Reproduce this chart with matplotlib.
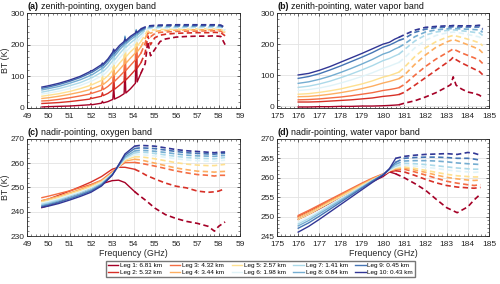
import numpy as np
import matplotlib
matplotlib.use("Agg")
import matplotlib.pyplot as plt
from matplotlib.ticker import MultipleLocator
from matplotlib.lines import Line2D

plt.rcParams["font.family"] = ["Liberation Sans", "DejaVu Sans"]

leg_labels = ["Leg 1: 6.81 km", "Leg 2: 5.32 km", "Leg 3: 4.32 km", "Leg 4: 3.44 km",
              "Leg 5: 2.57 km", "Leg 6: 1.98 km", "Leg 7: 1.41 km", "Leg 8: 0.84 km",
              "Leg 9: 0.45 km", "Leg 10: 0.43 km"]
leg_colors = ["#a50026", "#d73027", "#f46d43", "#fdae61", "#fee090",
              "#e0f3f8", "#abd9e9", "#74add1", "#4575b4", "#313695"]

# (a) zenith, oxygen band -- solid up to split, dashed after
freq_a = [49.7, 50.0, 50.5, 51.0, 51.5, 51.96, 52.0, 52.04, 52.5, 52.54, 52.58, 52.8,
          53.03, 53.07, 53.11, 53.35, 53.56, 53.6, 53.64, 53.85, 54.09, 54.13, 54.17, 54.35,
          54.55, 54.67, 54.8, 55.0, 55.25, 55.5, 56.0, 56.5, 57.0, 57.5, 57.8, 58.1, 58.3]
split_a = 54.35
bt_a = [
    [3, 4, 5, 6, 8, 10, 13, 10, 15, 21, 16, 20, 27, 67, 28, 36, 45, 128, 47, 60, 78, 200, 82, 110,
     140, 210, 165, 185, 210, 218, 224, 226, 227, 227, 228, 226, 200],
    [14, 15, 17, 20, 24, 28, 33, 30, 37, 48, 39, 46, 57, 102, 59, 72, 85, 171, 88, 103, 121, 216, 125, 143,
     175, 228, 200, 222, 230, 233, 236, 237, 238, 238, 239, 238, 228],
    [22, 23, 27, 32, 38, 44, 50, 46, 56, 70, 58, 68, 82, 127, 84, 100, 115, 194, 118, 134, 152, 232, 156, 173,
     205, 237, 225, 235, 239, 240, 242, 243, 243, 244, 244, 243, 233],
    [30, 32, 37, 43, 50, 58, 65, 60, 72, 88, 74, 86, 102, 144, 104, 122, 138, 207, 141, 157, 174, 239, 177, 193,
     220, 242, 236, 242, 244, 245, 246, 247, 247, 247, 248, 247, 238],
    [37, 40, 45, 52, 61, 71, 78, 73, 87, 103, 89, 102, 120, 156, 122, 142, 158, 216, 161, 177, 192, 244, 195, 210,
     232, 246, 246, 247, 248, 248, 249, 249, 250, 250, 250, 249, 240],
    [44, 47, 53, 61, 71, 83, 89, 85, 101, 115, 103, 117, 136, 166, 138, 158, 174, 222, 177, 192, 206, 246, 209, 223,
     240, 250, 250, 251, 252, 252, 252, 253, 253, 253, 253, 252, 244],
    [50, 54, 61, 70, 80, 93, 98, 95, 113, 125, 115, 130, 150, 174, 152, 172, 188, 226, 191, 205, 218, 248, 221, 233,
     246, 252, 253, 254, 255, 255, 255, 256, 256, 256, 256, 255, 247],
    [57, 61, 68, 78, 89, 102, 106, 104, 124, 133, 126, 142, 162, 180, 164, 184, 199, 227, 202, 215, 227, 247, 230, 241,
     250, 255, 256, 257, 258, 258, 258, 258, 259, 259, 259, 258, 250],
    [62, 66, 74, 84, 96, 110, 113, 112, 132, 139, 134, 150, 170, 183, 172, 192, 205, 223, 208, 221, 233, 245, 236, 246,
     253, 257, 258, 259, 260, 260, 260, 260, 261, 261, 261, 260, 252],
    [66, 70, 78, 88, 100, 115, 118, 117, 137, 142, 139, 155, 177, 186, 179, 198, 210, 217, 213, 226, 237, 242, 239, 250,
     256, 259, 260, 261, 262, 262, 263, 263, 263, 263, 263, 262, 254],
]

# (b) zenith, water vapor band
freq_b = [176.0, 176.5, 177.0, 177.5, 178.0, 178.5, 179.0, 179.5, 180.0, 180.3, 180.55, 180.75,
          181.0, 181.5, 182.0, 182.5, 183.0, 183.2, 183.31, 183.45, 183.7, 184.0, 184.3, 184.55, 184.7]
split_b = 180.75
bt_b = [
    [-2, -2, -1, -1, 0, 0, 1, 1, 2, 3, 4, 5, 10, 18, 30, 44, 62, 70, 95, 68, 56, 46, 42, 36, 28],
    [14, 14, 15, 17, 19, 21, 24, 27, 32, 34, 36, 38, 45, 68, 92, 116, 140, 150, 158, 150, 140, 130, 120, 112, 102],
    [21, 22, 24, 27, 30, 34, 39, 44, 51, 54, 57, 60, 70, 100, 128, 152, 172, 180, 185, 180, 172, 164, 156, 148, 138],
    [31, 32, 35, 39, 44, 50, 57, 65, 75, 80, 85, 89, 100, 135, 165, 190, 207, 212, 215, 212, 206, 198, 190, 182, 172],
    [39, 41, 45, 50, 56, 64, 72, 82, 94, 99, 105, 110, 125, 160, 188, 208, 222, 226, 228, 226, 222, 216, 210, 204, 195],
    [51, 54, 59, 66, 75, 85, 96, 108, 122, 129, 136, 141, 155, 188, 212, 228, 236, 238, 239, 238, 235, 231, 227, 223, 214],
    [61, 65, 72, 81, 92, 104, 117, 131, 147, 154, 162, 168, 182, 210, 229, 239, 244, 245, 246, 245, 243, 241, 238, 236, 228],
    [74, 79, 87, 97, 109, 122, 136, 151, 168, 175, 184, 190, 200, 224, 239, 246, 249, 250, 251, 250, 249, 248, 247, 246, 238],
    [90, 96, 105, 117, 130, 144, 158, 173, 190, 197, 205, 212, 218, 238, 248, 253, 255, 255, 256, 255, 255, 255, 255, 255, 246],
    [101, 106, 116, 128, 142, 156, 170, 185, 200, 206, 216, 222, 230, 245, 254, 257, 259, 259, 260, 259, 259, 259, 259, 261, 250],
]

# (c) nadir, oxygen band
freq_c = [49.7, 50.0, 50.5, 51.0, 51.5, 52.0, 52.5, 53.0, 53.3, 53.6, 54.05,
          54.3, 54.6, 55.0, 55.5, 56.0, 56.5, 57.0, 57.5, 57.8, 58.0, 58.3]
split_c = 54.05
bt_c = [
    [241.7, 242.5, 244.0, 246.0, 247.5, 249.5, 251.5, 252.8, 253.0, 252.0, 248.3,
     246.5, 244.5, 241.5, 238.8, 237.2, 236.0, 235.2, 234.0, 232.0, 234.0, 235.8],
    [244.5, 245.2, 246.8, 248.5, 250.3, 252.2, 254.5, 257.5, 258.3, 258.3, 257.5,
     256.5, 255.0, 253.5, 251.8, 250.5, 249.8, 248.5, 248.0, 248.2, 248.5, 249.5],
    [245.8, 246.4, 247.5, 248.6, 249.9, 251.2, 253.0, 256.5, 258.5, 260.2, 260.3,
     260.0, 259.5, 258.8, 257.8, 256.8, 256.0, 255.3, 255.0, 254.7, 255.0, 255.0],
    [244.6, 245.2, 246.4, 247.8, 249.2, 250.8, 252.8, 256.0, 258.5, 260.8, 261.6,
     261.4, 260.8, 260.0, 259.0, 258.0, 257.3, 256.7, 256.5, 256.3, 256.5, 256.6],
    [244.1, 244.7, 245.9, 247.3, 248.7, 250.3, 252.4, 255.8, 258.5, 261.2, 262.6,
     262.6, 262.3, 261.8, 261.0, 260.2, 259.6, 259.2, 259.0, 259.0, 259.2, 259.5],
    [243.6, 244.2, 245.4, 246.8, 248.2, 249.8, 252.0, 255.6, 258.6, 261.6, 263.4,
     263.5, 263.3, 263.0, 262.4, 261.8, 261.3, 261.0, 260.8, 260.8, 261.0, 261.2],
    [243.1, 243.7, 244.9, 246.3, 247.7, 249.4, 251.7, 255.5, 258.7, 262.0, 264.2,
     264.5, 264.4, 264.0, 263.4, 262.8, 262.3, 262.0, 261.9, 261.8, 262.0, 262.3],
    [242.6, 243.2, 244.4, 245.8, 247.2, 248.9, 251.3, 255.3, 258.9, 262.5, 265.0,
     265.3, 265.2, 264.9, 264.4, 263.8, 263.3, 263.0, 262.9, 262.8, 263.0, 263.2],
    [242.2, 242.8, 243.9, 245.3, 246.8, 248.5, 251.0, 255.2, 259.1, 263.2, 266.0,
     266.3, 266.2, 266.0, 265.4, 264.8, 264.3, 264.0, 263.8, 263.7, 263.9, 264.1],
    [241.8, 242.3, 243.4, 244.8, 246.3, 248.0, 250.6, 255.0, 259.3, 263.8, 267.0,
     267.3, 267.2, 267.0, 266.3, 265.6, 265.1, 264.8, 264.5, 264.3, 264.5, 264.6],
]

# (d) nadir, water vapor band
freq_d = [176.0, 176.5, 177.0, 177.5, 178.0, 178.5, 179.0, 179.5, 180.0, 180.3, 180.6,
          181.0, 181.5, 182.0, 182.5, 183.0, 183.5, 184.0, 184.3, 184.6]
split_d = 180.6
bt_d = [
    [249.3, 250.6, 252.0, 253.4, 254.8, 256.2, 257.6, 259.0, 260.3, 261.5, 261.0,
     260.0, 258.5, 256.8, 254.5, 252.3, 251.0, 252.5, 254.3, 255.8],
    [250.0, 251.3, 252.7, 254.1, 255.5, 256.9, 258.3, 259.6, 260.7, 261.5, 261.8,
     261.5, 260.6, 259.6, 258.7, 258.0, 257.6, 257.4, 257.3, 257.5],
    [250.3, 251.6, 253.0, 254.4, 255.8, 257.2, 258.6, 259.9, 261.0, 261.8, 262.2,
     262.2, 261.5, 260.7, 259.9, 259.1, 258.6, 258.2, 258.0, 258.2],
    [249.8, 251.1, 252.5, 254.0, 255.4, 256.9, 258.3, 259.7, 260.9, 261.8, 262.3,
     262.5, 262.0, 261.4, 260.7, 260.1, 259.7, 259.4, 259.3, 259.4],
    [249.3, 250.6, 252.1, 253.6, 255.1, 256.6, 258.1, 259.5, 260.8, 261.8, 262.5,
     262.8, 262.4, 261.9, 261.4, 260.9, 260.5, 260.3, 260.2, 260.2],
    [248.6, 249.9, 251.5, 253.1, 254.7, 256.2, 257.8, 259.3, 260.7, 261.8, 262.7,
     263.2, 263.0, 262.7, 262.4, 262.0, 261.7, 261.5, 261.4, 261.5],
    [248.1, 249.5, 251.1, 252.8, 254.4, 256.0, 257.7, 259.3, 260.8, 262.0, 263.0,
     263.7, 263.6, 263.4, 263.1, 262.8, 262.5, 262.3, 262.2, 262.2],
    [247.6, 249.0, 250.7, 252.4, 254.1, 255.8, 257.5, 259.2, 260.8, 262.2, 263.5,
     264.3, 264.4, 264.4, 264.3, 264.1, 263.8, 263.6, 263.5, 263.4],
    [247.0, 248.4, 250.1, 251.9, 253.7, 255.5, 257.3, 259.1, 260.8, 262.3, 264.0,
     265.0, 265.2, 265.3, 265.3, 265.2, 265.0, 265.0, 264.8, 264.5],
    [246.0, 247.5, 249.3, 251.2, 253.1, 255.0, 256.9, 258.8, 260.6, 262.3, 265.0,
     265.5, 265.8, 266.0, 266.1, 266.2, 266.0, 266.5, 266.3, 265.8],
]

panels = [
    ("(a)", "zenith-pointing, oxygen band", freq_a, bt_a, split_a, (49, 59), (0, 300), 100, 20),
    ("(b)", "zenith-pointing, water vapor band", freq_b, bt_b, split_b, (175, 185), (-5, 300), 100, 20),
    ("(c)", "nadir-pointing, oxygen band", freq_c, bt_c, split_c, (49, 59), (230, 270), 10, 2),
    ("(d)", "nadir-pointing, water vapor band", freq_d, bt_d, split_d, (175, 185), (245, 270), 5, 1),
]
boxes = [
    [0.054, 0.620, 0.426, 0.334],
    [0.554, 0.620, 0.424, 0.334],
    [0.054, 0.169, 0.426, 0.342],
    [0.554, 0.169, 0.424, 0.342],
]

frame = "#262626"
fig = plt.figure(figsize=(5.0, 2.84), dpi=100)

for k, (tag, title, freq, rows, split, xl, yl, ymaj, ymin) in enumerate(panels):
    ax = fig.add_axes(boxes[k])
    f = np.array(freq)
    solid = f <= split
    dashed = f >= split
    for i, row in enumerate(rows):
        y = np.array(row, dtype=float)
        ax.plot(f[solid], y[solid], color=leg_colors[i], lw=1.0)
        ax.plot(f[dashed], y[dashed], color=leg_colors[i], lw=1.2, linestyle=(0, (3.2, 2.0)))
    ax.set_xlim(*xl)
    ax.set_ylim(*yl)
    ax.xaxis.set_major_locator(MultipleLocator(1))
    ax.xaxis.set_minor_locator(MultipleLocator(0.2))
    ax.yaxis.set_major_locator(MultipleLocator(ymaj))
    ax.yaxis.set_minor_locator(MultipleLocator(ymin))
    ax.grid(True, which="major", color="#e3e3e3", lw=0.6)
    ax.set_axisbelow(True)
    ax.tick_params(which="both", direction="in", top=True, right=True,
                   colors=frame, labelsize=6.0)
    ax.tick_params(axis="x", pad=3.5)
    ax.tick_params(axis="y", pad=1.8)
    ax.tick_params(which="major", length=2.5, width=0.5)
    ax.tick_params(which="minor", length=1.3, width=0.4)
    for s in ax.spines.values():
        s.set_color(frame)
        s.set_linewidth(0.6)
    # bold panel tag followed by plain title text
    t = ax.text(0, 1.02, tag, transform=ax.transAxes, fontsize=6.4, fontweight="bold",
                ha="left", va="bottom", color="#111111")
    ax.annotate(title, xy=(1, 0), xycoords=t, xytext=(2, 0), textcoords="offset points",
                fontsize=6.4, ha="left", va="bottom", color="#111111")
    if k % 2 == 0:
        ax.set_ylabel("BT (K)", fontsize=6.4, color=frame)
        ax.yaxis.set_label_coords(-0.082, 0.5)
    if k >= 2:
        ax.set_xlabel("Frequency (GHz)", fontsize=6.4, labelpad=1.0, color=frame)

handles = [Line2D([], [], color=c, lw=1.0) for c in leg_colors]
fig.legend(handles, leg_labels, ncol=5, loc="center", bbox_to_anchor=(0.521, 0.053),
           fontsize=4.6, frameon=True, fancybox=False, edgecolor="#555555",
           handlelength=1.6, handletextpad=0.3, columnspacing=1.2,
           labelspacing=0.15, borderpad=0.35)
fig.savefig("out.png", dpi=100)
